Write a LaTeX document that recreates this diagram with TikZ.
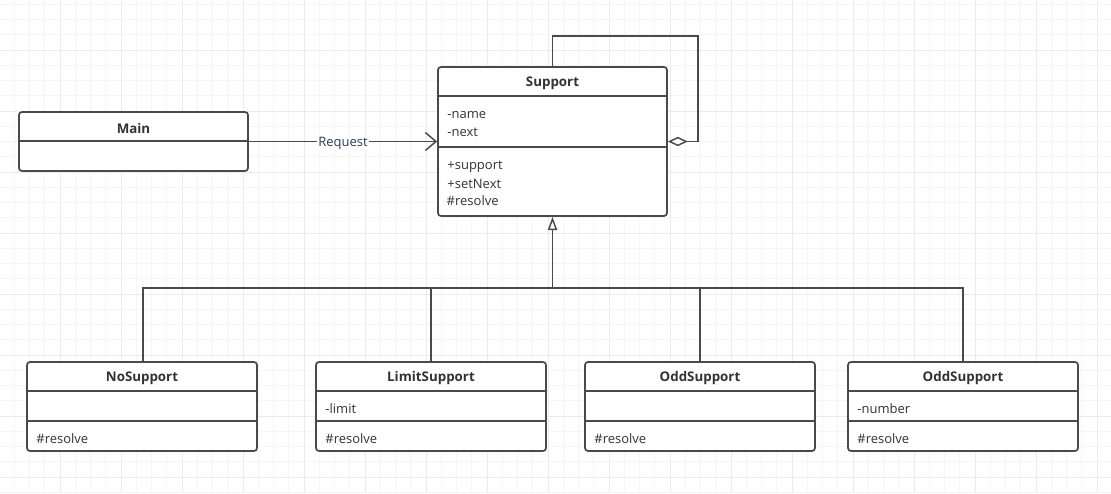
\documentclass[tikz,border=0pt]{standalone}
\usepackage{fontspec}
\setmainfont{Open Sans}
\usepackage{xcolor}
\usetikzlibrary{arrows.meta}

\definecolor{umlgray}{HTML}{4A4A4A}
\definecolor{umltext}{HTML}{333333}
\definecolor{gridminor}{HTML}{F5F5F5}
\definecolor{gridmajor}{HTML}{EBEBEB}
\definecolor{reqtext}{HTML}{2B3A55}

\tikzset{
	cls/.style={draw=umlgray, line width=1.3pt, rounded corners=2.25pt, fill=white, inner sep=0pt},
	title/.style={font=\fontsize{10pt}{12pt}\selectfont\bfseries, text=umltext},
	member/.style={anchor=west, inner sep=0pt, font=\fontsize{9.75pt}{11pt}\selectfont, text=umltext},
	divider/.style={draw=umlgray, line width=1.3pt},
	link/.style={draw=umlgray, line width=1.1pt},
}

\begin{document}
\begin{tikzpicture}[x=0.75pt, y=-0.75pt]
		\useasboundingbox (0,0) rectangle (1111,493);
		\fill[white] (0,0) rectangle (1111,493);
		% background grid
		\foreach \k in {0,...,72} \draw[gridminor, line width=0.75pt] (-1+15.25*\k,0) -- (-1+15.25*\k,493);
		\foreach \k in {0,...,33} \draw[gridminor, line width=0.75pt] (0,-11+15.25*\k) -- (1111,-11+15.25*\k);
		\foreach \k in {0,...,18} \draw[gridmajor, line width=0.75pt] (-1+61*\k,0) -- (-1+61*\k,493);
		\foreach \k in {0,...,8} \draw[gridmajor, line width=0.75pt] (0,-11+61*\k) -- (1111,-11+61*\k);

		% classes
		\node[cls, minimum width=171.75pt, minimum height=44.25pt] (main) at (133.5,141.5) {};
		\node[cls, minimum width=171.75pt, minimum height=111.75pt] (support) at (552.5,141.5) {};
		\node[cls, minimum width=172.5pt, minimum height=66.75pt] (nosup) at (142,406.5) {};
		\node[cls, minimum width=172.5pt, minimum height=66.75pt] (limitsup) at (431,406.5) {};
		\node[cls, minimum width=172.5pt, minimum height=66.75pt] (oddsup) at (700,406.5) {};
		\node[cls, minimum width=172.5pt, minimum height=66.75pt] (oddsuptwo) at (963,406.5) {};

		\node[title] (main title) at ([yshift=-13pt]main.north) {Main};
		\draw[divider] ([yshift=-22.5pt]main.north west) -- ([yshift=-22.5pt]main.north east);

		\node[title] (support title) at ([yshift=-13pt]support.north) {Support};
		\draw[divider] ([yshift=-22.5pt]support.north west) -- ([yshift=-22.5pt]support.north east);
		\draw[divider] ([yshift=-60.75pt]support.north west) -- ([yshift=-60.75pt]support.north east);
		\node[member] (support name) at ([xshift=7.5pt, yshift=-36.75pt]support.north west) {-name};
		\node[member] (support next) at ([xshift=7.5pt, yshift=-49.5pt]support.north west) {-next};
		\node[member] (support support) at ([xshift=7.5pt, yshift=-75.75pt]support.north west) {+support};
		\node[member] (support setnext) at ([xshift=7.5pt, yshift=-88.5pt]support.north west) {+setNext};
		\node[member] (support resolve) at ([xshift=7pt, yshift=-100.5pt]support.north west) {\#resolve};

		\node[title] (nosup title) at ([yshift=-13pt]nosup.north) {NoSupport};
		\draw[divider] ([yshift=-22.5pt]nosup.north west) -- ([yshift=-22.5pt]nosup.north east);
		\draw[divider] ([yshift=-45pt]nosup.north west) -- ([yshift=-45pt]nosup.north east);
		\node[member] (nosup resolve) at ([xshift=7.5pt, yshift=-57.75pt]nosup.north west) {\#resolve};

		\node[title] (limitsup title) at ([yshift=-13pt]limitsup.north) {LimitSupport};
		\draw[divider] ([yshift=-22.5pt]limitsup.north west) -- ([yshift=-22.5pt]limitsup.north east);
		\draw[divider] ([yshift=-45pt]limitsup.north west) -- ([yshift=-45pt]limitsup.north east);
		\node[member] (limitsup limit) at ([xshift=7.5pt, yshift=-35.25pt]limitsup.north west) {-limit};
		\node[member] (limitsup resolve) at ([xshift=7.5pt, yshift=-57.75pt]limitsup.north west) {\#resolve};

		\node[title] (oddsup title) at ([yshift=-13pt]oddsup.north) {OddSupport};
		\draw[divider] ([yshift=-22.5pt]oddsup.north west) -- ([yshift=-22.5pt]oddsup.north east);
		\draw[divider] ([yshift=-45pt]oddsup.north west) -- ([yshift=-45pt]oddsup.north east);
		\node[member] (oddsup resolve) at ([xshift=7.5pt, yshift=-57.75pt]oddsup.north west) {\#resolve};

		\node[title] (oddsuptwo title) at ([yshift=-13pt]oddsuptwo.north) {OddSupport};
		\draw[divider] ([yshift=-22.5pt]oddsuptwo.north west) -- ([yshift=-22.5pt]oddsuptwo.north east);
		\draw[divider] ([yshift=-45pt]oddsuptwo.north west) -- ([yshift=-45pt]oddsuptwo.north east);
		\node[member] (oddsuptwo number) at ([xshift=7.5pt, yshift=-35.25pt]oddsuptwo.north west) {-number};
		\node[member] (oddsuptwo resolve) at ([xshift=7.5pt, yshift=-57.75pt]oddsuptwo.north west) {\#resolve};

		% connectors
		\draw[link, -{Straight Barb[length=8pt, width=13.5pt]}] (main.east) -- (support.west)
			node[midway, fill=white, inner sep=1pt, yshift=-1.5pt, text=reqtext, font=\fontsize{9.75pt}{11pt}\selectfont] (request) {Request};
		\draw[link, -{Diamond[length=15pt, width=7pt, fill=white]}] (support.north) -- ++(0,-30) -| ([xshift=22.5pt]support.east) -- (support.east);
		\coordinate (bus) at (552.5,288);
		\draw[link, -{Triangle[length=10pt, width=7pt, fill=white]}] (bus) -- (support.south);
		\draw[link] ([xshift=0.75pt]nosup.north) |- (oddsuptwo.north |- bus) -- (oddsuptwo.north);
		\draw[link] (limitsup.north) -- (limitsup.north |- bus);
		\draw[link] (oddsup.north) -- (oddsup.north |- bus);
	\end{tikzpicture}
\end{document}
